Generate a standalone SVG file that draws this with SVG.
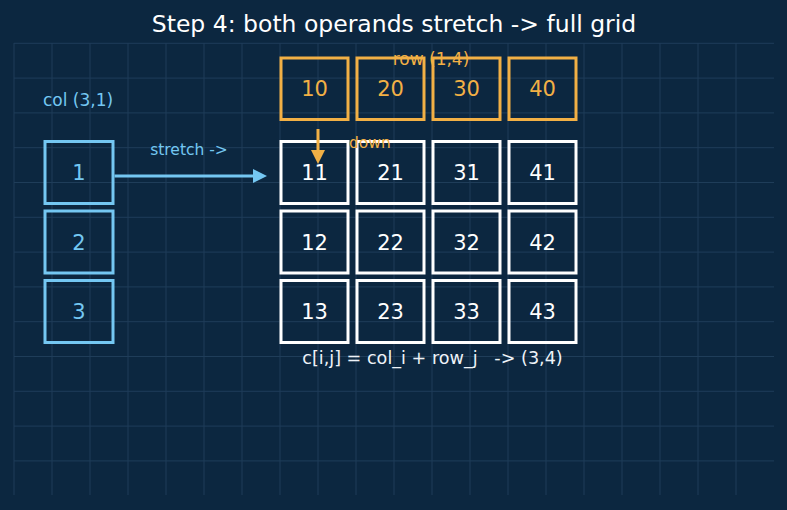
<svg xmlns="http://www.w3.org/2000/svg" width="787" height="510" viewBox="0 0 787 510">
  <style>
    text { font-family: "DejaVu Sans", "Liberation Sans", sans-serif; }
    .grid { stroke: #1f3d59; stroke-width: 1; fill: none; }
    .cbox { fill: none; stroke: #74c7f2; stroke-width: 3; }
    .rbox { fill: none; stroke: #f2b045; stroke-width: 3; }
    .wbox { fill: none; stroke: #ffffff; stroke-width: 3; }
    .num { font-size: 21px; text-anchor: middle; }
    .cnum { fill: #74c7f2; }
    .rnum { fill: #f2b045; }
    .wnum { fill: #ffffff; }
    .title { font-size: 23.5px; fill: #ffffff; text-anchor: middle; }
    .lbl { font-size: 17px; }
    .small { font-size: 15.5px; }
  </style>
  <defs>
    <marker id="ahBlue" viewBox="0 0 14 14" markerWidth="14" markerHeight="14" markerUnits="userSpaceOnUse" refX="3" refY="7" orient="auto">
      <path d="M0,0 L14,7 L0,14 Z" fill="#74c7f2"/>
    </marker>
    <marker id="ahOrange" viewBox="0 0 14 14" markerWidth="14" markerHeight="14" markerUnits="userSpaceOnUse" refX="3" refY="7" orient="auto">
      <path d="M0,0 L14,7 L0,14 Z" fill="#f2b045"/>
    </marker>
  </defs>
  <rect x="0" y="0" width="787" height="510" fill="#0c2740"/>
  <g id="grid" class="grid">
    <path d="M14,43V495 M52,43V495 M90,43V495 M128,43V495 M166,43V495 M204,43V495 M242,43V495 M280,43V495 M318,43V495 M356,43V495 M394,43V495 M432,43V495 M470,43V495 M508,43V495 M546,43V495 M584,43V495 M622,43V495 M660,43V495 M698,43V495 M736,43V495"/>
    <path d="M14,43.3H774 M14,78.1H774 M14,112.9H774 M14,147.7H774 M14,182.5H774 M14,217.3H774 M14,252.1H774 M14,286.9H774 M14,321.7H774 M14,356.5H774 M14,391.3H774 M14,426.1H774 M14,460.9H774"/>
  </g>
  <text class="title" x="394" y="32">Step 4: both operands stretch -&gt; full grid</text>

  <g id="col-label"><text class="lbl" x="78" y="106" text-anchor="middle" fill="#74c7f2">col (3,1)</text></g>
  <g id="row-label"><text class="lbl" x="431" y="65" text-anchor="middle" fill="#f2b045">row (1,4)</text></g>

  <g id="col1"><rect class="cbox" x="45" y="141.5" width="68" height="62"/><text class="num cnum" x="79" y="180">1</text></g>
  <g id="col2"><rect class="cbox" x="45" y="211" width="68" height="62"/><text class="num cnum" x="79" y="249.5">2</text></g>
  <g id="col3"><rect class="cbox" x="45" y="280.5" width="68" height="62"/><text class="num cnum" x="79" y="319">3</text></g>

  <g id="row10"><rect class="rbox" x="281" y="58" width="67" height="61.5"/><text class="num rnum" x="314.5" y="96">10</text></g>
  <g id="row20"><rect class="rbox" x="357" y="58" width="67" height="61.5"/><text class="num rnum" x="390.5" y="96">20</text></g>
  <g id="row30"><rect class="rbox" x="433" y="58" width="67" height="61.5"/><text class="num rnum" x="466.5" y="96">30</text></g>
  <g id="row40"><rect class="rbox" x="509" y="58" width="67" height="61.5"/><text class="num rnum" x="542.5" y="96">40</text></g>

  <g id="c11"><rect class="wbox" x="281" y="141.5" width="67" height="62"/><text class="num wnum" x="314.5" y="180">11</text></g>
  <g id="c21"><rect class="wbox" x="357" y="141.5" width="67" height="62"/><text class="num wnum" x="390.5" y="180">21</text></g>
  <g id="c31"><rect class="wbox" x="433" y="141.5" width="67" height="62"/><text class="num wnum" x="466.5" y="180">31</text></g>
  <g id="c41"><rect class="wbox" x="509" y="141.5" width="67" height="62"/><text class="num wnum" x="542.5" y="180">41</text></g>

  <g id="c12"><rect class="wbox" x="281" y="211" width="67" height="62"/><text class="num wnum" x="314.5" y="249.5">12</text></g>
  <g id="c22"><rect class="wbox" x="357" y="211" width="67" height="62"/><text class="num wnum" x="390.5" y="249.5">22</text></g>
  <g id="c32"><rect class="wbox" x="433" y="211" width="67" height="62"/><text class="num wnum" x="466.5" y="249.5">32</text></g>
  <g id="c42"><rect class="wbox" x="509" y="211" width="67" height="62"/><text class="num wnum" x="542.5" y="249.5">42</text></g>

  <g id="c13"><rect class="wbox" x="281" y="280.5" width="67" height="62"/><text class="num wnum" x="314.5" y="319">13</text></g>
  <g id="c23"><rect class="wbox" x="357" y="280.5" width="67" height="62"/><text class="num wnum" x="390.5" y="319">23</text></g>
  <g id="c33"><rect class="wbox" x="433" y="280.5" width="67" height="62"/><text class="num wnum" x="466.5" y="319">33</text></g>
  <g id="c43"><rect class="wbox" x="509" y="280.5" width="67" height="62"/><text class="num wnum" x="542.5" y="319">43</text></g>

  <g id="connectors">
    <line x1="114.5" y1="176" x2="256" y2="176" stroke="#74c7f2" stroke-width="3" marker-end="url(#ahBlue)"/>
    <text class="small" x="189" y="155" text-anchor="middle" fill="#74c7f2">stretch -&gt;</text>
    <line x1="318" y1="129" x2="318" y2="153" stroke="#f2b045" stroke-width="3" marker-end="url(#ahOrange)"/>
    <text class="small" x="349" y="147.5" fill="#f2b045">down</text>
  </g>

  <g id="formula"><text x="432.5" y="364" text-anchor="middle" font-size="17.6" fill="#eef3f8" xml:space="preserve" style="white-space:pre">c[i,j] = col_i + row_j   -&gt; (3,4)</text></g>
</svg>
